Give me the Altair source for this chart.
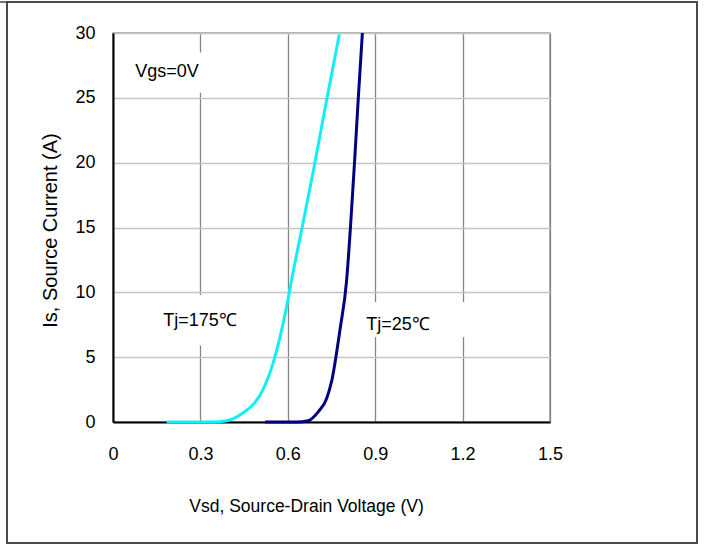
import altair as alt
import pandas as pd

# Tj = 175 C curve (Vsd in V, Is in A)
vsd_175 = [0.184, 0.343, 0.39, 0.446, 0.487, 0.515, 0.549, 0.596, 0.613, 0.65, 0.688, 0.733, 0.777]
is_175 = [0, 0, 0.1, 0.7, 1.5, 2.5, 4.5, 8.9, 10.95, 15.1, 19.4, 24.8, 29.9]
# Tj = 25 C curve
vsd_25 = [0.522, 0.63, 0.67, 0.705, 0.733, 0.751, 0.779, 0.802, 0.815, 0.829, 0.842, 0.856]
is_25 = [0, 0, 0.1, 0.8, 1.8, 3.2, 7.1, 10.95, 15.0, 20.0, 25.0, 30.0]

x_ticks = [0, 0.3, 0.6, 0.9, 1.2, 1.5]
y_ticks = [0, 5, 10, 15, 20, 25, 30]

# annotations
ann_text = ["Vgs=0V", "Tj=175\u2103", "Tj=25\u2103"]
ann_x = [0.185, 0.299, 0.978]
ann_y = [27.0, 7.8, 7.48]
# white label backgrounds (interrupt grid lines as in the original)
box_x = [0.06, 0.15, 0.86]
box_x2 = [0.34, 0.47, 1.22]
box_y = [25.4, 5.9, 6.55]
box_y2 = [28.5, 9.8, 9.25]

df = pd.concat([
    pd.DataFrame({"Vsd": vsd_175, "Is": is_175, "Tj": "175"}),
    pd.DataFrame({"Vsd": vsd_25, "Is": is_25, "Tj": "25"}),
])
ann = pd.DataFrame({"t": ann_text, "x": ann_x, "y": ann_y})
boxes = pd.DataFrame({"x": box_x, "x2": box_x2, "y": box_y, "y2": box_y2})

FONT = "Liberation Sans"

xscale = alt.Scale(domain=[0, 1.5], nice=False, zero=False)
yscale = alt.Scale(domain=[0, 30], nice=False)

x_axis = alt.Axis(
    values=x_ticks, title="Vsd, Source-Drain Voltage (V)",
    labelExpr="datum.value == 0 ? '0' : format(datum.value, '.1f')",
    grid=True, gridColor="#858585", gridWidth=1.3,
    domainColor="#000000", domainWidth=2, ticks=False, labelFlush=False,
    labelPadding=23, labelFontSize=18, labelFont=FONT, labelColor="#000",
    titleFont=FONT, titleFontSize=17.5, titleFontWeight="normal", titleColor="#000",
    titleX=193, titleY=84, titleAlign="center", titleBaseline="middle",
)
y_axis = alt.Axis(
    values=y_ticks, title="Is, Source Current (A)",
    grid=True, gridColor="#c4c4c4", gridWidth=1.6,
    domainColor="#000000", domainWidth=2, ticks=False, labelFlush=False,
    labelPadding=18, labelFontSize=18, labelFont=FONT, labelColor="#000",
    titleFont=FONT, titleFontSize=20, titleFontWeight="normal", titleColor="#000",
    titleX=-63, titleY=197, titleAlign="center", titleBaseline="middle", titleAngle=270,
)

bg = alt.Chart(boxes).mark_rect(fill="white", stroke=None).encode(
    x=alt.X("x:Q", scale=xscale, axis=x_axis),
    x2="x2:Q",
    y=alt.Y("y:Q", scale=yscale, axis=y_axis),
    y2="y2:Q",
)

lines = alt.Chart(df).mark_line(strokeWidth=3, interpolate="monotone").encode(
    x=alt.X("Vsd:Q", scale=xscale),
    y=alt.Y("Is:Q", scale=yscale),
    color=alt.Color("Tj:N", scale=alt.Scale(domain=["175", "25"], range=["#10F0F4", "#000080"]), legend=None),
    order="Vsd:Q",
)

texts = alt.Chart(ann).mark_text(font=FONT, fontSize=18, color="#000", align="center", baseline="middle").encode(
    x=alt.X("x:Q", scale=xscale),
    y=alt.Y("y:Q", scale=yscale),
    text="t:N",
)

one = alt.Data(values=[{}])
border = alt.Chart(one).mark_rect(fill=None, stroke="#4a4a4a", strokeWidth=2).encode(
    x=alt.value(-106), x2=alt.value(584), y=alt.value(-31), y2=alt.value(510)
)
topline = alt.Chart(one).mark_rule(stroke="#4a4a4a", strokeWidth=1.5).encode(
    x=alt.value(-113), x2=alt.value(584), y=alt.value(-31)
)

chart = alt.layer(bg, lines, texts, border, topline).properties(
    width=437, height=389,
    autosize=alt.AutoSizeParams(type="none"),
    padding={"left": 113, "top": 33, "right": 154, "bottom": 123},
    background="white",
).configure_view(stroke="#9a9a9a", strokeWidth=1.5)

chart.save("out.html", embed_options={"renderer": "svg", "actions": False})
